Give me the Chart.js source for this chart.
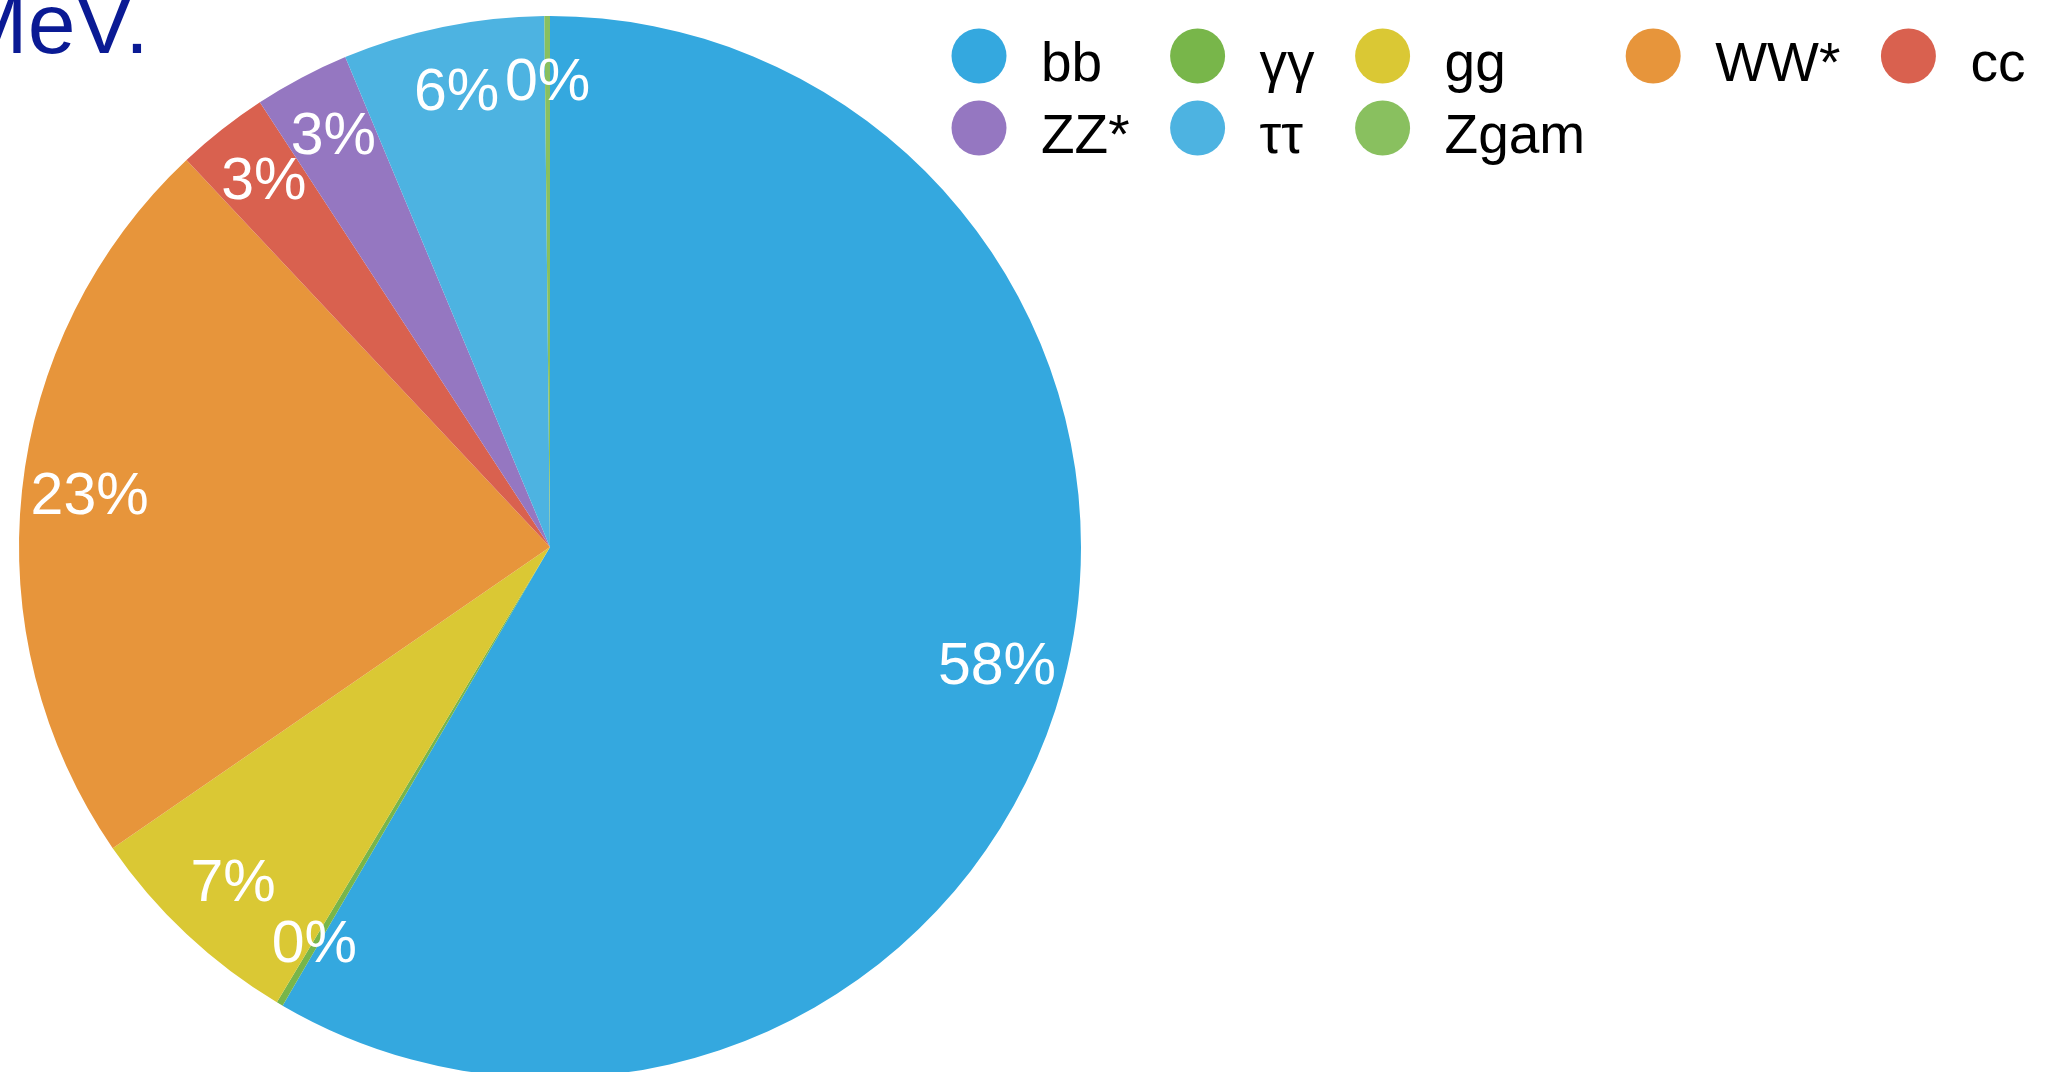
<!DOCTYPE html>
<html>
<head>
<meta charset="utf-8">
<script src="https://cdn.jsdelivr.net/npm/chart.js@4.4.1/dist/chart.umd.min.js"></script>
<style>
  html, body { margin: 0; padding: 0; background: #fff; overflow: hidden; }
  #wrap { position: absolute; left: 0; top: 0; width: 2050px; height: 1080px; }
</style>
</head>
<body>
<div id="wrap"><canvas id="pieChart"></canvas></div>

<script>
// decay channels, in the order they go round the pie (clockwise from 12 o'clock)
var channels = ["bb", "γγ", "gg", "WW*", "cc", "ZZ*", "ττ", "Zgam"];
// share of each channel, in percent
var shares   = [58.4, 0.2, 6.8, 22.6, 2.8, 2.9, 6.13, 0.17];
var colours  = ["#34a8df", "#78b64a", "#dac834", "#e7953b", "#d9614f", "#9577c1", "#4db3e1", "#89c05f"];

// legend grid: which channel sits in which column / row
var legendRows = [
	["bb", "γγ", "gg", "WW*", "cc"],
	["ZZ*", "ττ", "Zgam"]
];

var FONT = '"Liberation Sans", Arial, Helvetica, sans-serif';

// slide title, cut off by the top-left corner
var titlePlugin = {
	id: 'slideTitle',
	afterDraw: function(chart) {
		var ctx = chart.ctx;
		ctx.save();
		ctx.fillStyle = "#0a1a94";
		ctx.font = "86px " + FONT;
		ctx.textAlign = "left";
		ctx.textBaseline = "alphabetic";
		ctx.fillText("MeV.", -44, 53);
		ctx.restore();
	}
};

// white percentage labels inside each slice
var labelPlugin = {
	id: 'sliceLabels',
	afterDatasetsDraw: function(chart) {
		var ctx = chart.ctx;
		var meta = chart.getDatasetMeta(0);
		var data = chart.data.datasets[0].data;
		var total = data.reduce(function(a, b) { return a + b; }, 0);
		ctx.save();
		ctx.fillStyle = "#ffffff";
		ctx.font = "59px " + FONT;
		ctx.textAlign = "center";
		ctx.textBaseline = "middle";
		meta.data.forEach(function(arc, i) {
			var p = arc.getProps(['x', 'y', 'startAngle', 'endAngle', 'outerRadius'], true);
			var mid = (p.startAngle + p.endAngle) / 2;
			var r = p.outerRadius * 0.872;
			var txt = Math.round(data[i] / total * 100) + "%";
			ctx.fillText(txt, p.x + Math.cos(mid) * r, p.y + Math.sin(mid) * r);
		});
		ctx.restore();
	}
};

// legend laid out as a grid, columns line up across the two rows
var legendPlugin = {
	id: 'gridLegend',
	afterDraw: function(chart) {
		var ctx = chart.ctx;
		ctx.save();
		ctx.font = "55px " + FONT;
		ctx.textAlign = "left";
		ctx.textBaseline = "alphabetic";
		var dot = 27.5, textOff = 62, colGap = 68;
		var rowY = [56, 128];
		var cx = 979;
		var nCols = legendRows[0].length;
		for (var c = 0; c < nCols; c++) {
			var maxW = 0;
			for (var r = 0; r < legendRows.length; r++) {
				var name = legendRows[r][c];
				if (!name) continue;
				var k = channels.indexOf(name);
				ctx.fillStyle = colours[k];
				ctx.beginPath();
				ctx.arc(cx, rowY[r], dot, 0, Math.PI * 2);
				ctx.fill();
				ctx.fillStyle = "#000000";
				ctx.fillText(name, cx + textOff, rowY[r] + 25);
				maxW = Math.max(maxW, ctx.measureText(name).width);
			}
			cx = cx + textOff + maxW + colGap;
		}
		ctx.restore();
	}
};

var pie_chart = new Chart(document.getElementById("pieChart"), {
	type: 'pie',
	data: {
		labels: channels,
		datasets: [{
			data: shares,
			backgroundColor: colours,
			borderWidth: 0
		}]
	},
	options: {
		responsive: true,
		maintainAspectRatio: false,
		animation: false,
		layout: { padding: { left: 19, top: 16, right: 969, bottom: 2 } },
		plugins: {
			legend: { display: false },
			tooltip: { enabled: false },
			title: { display: false }
		}
	},
	plugins: [labelPlugin, legendPlugin, titlePlugin]
});
</script>
</body>
</html>
